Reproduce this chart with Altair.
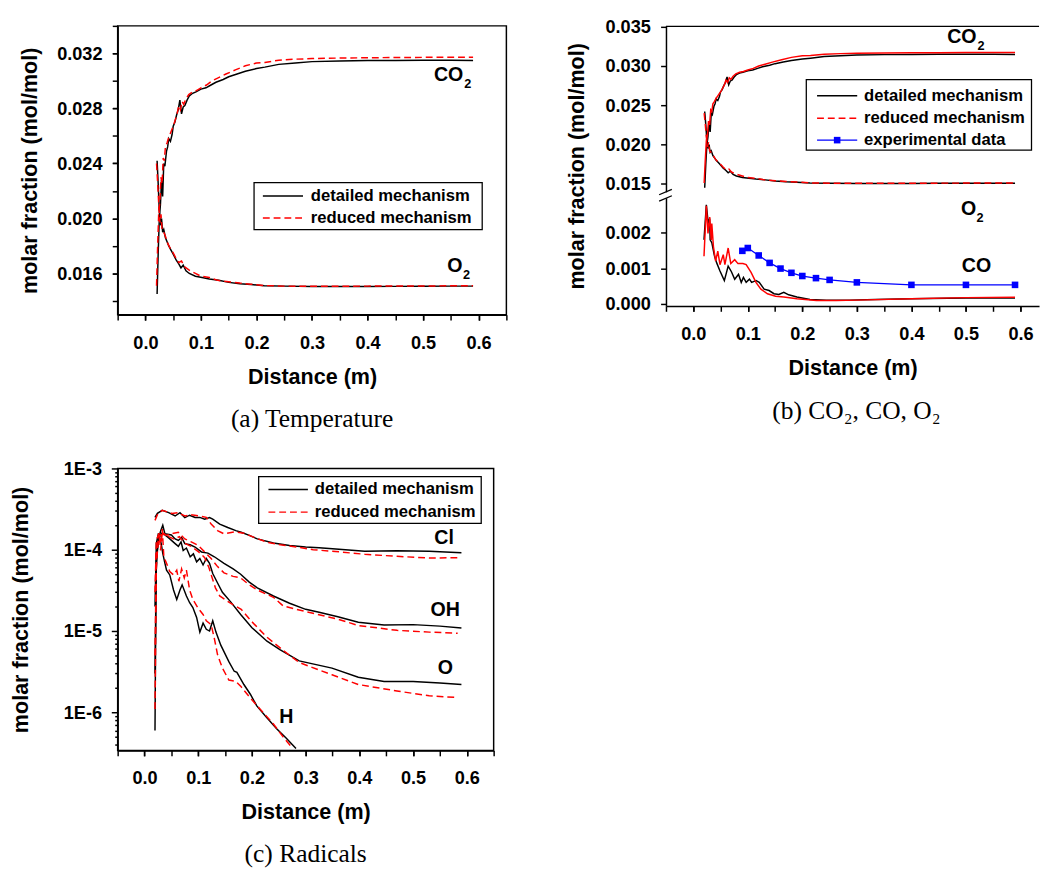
import altair as alt
import pandas as pd

# ---------------- data ----------------
# CO2 / O2 profiles, used in panels (a) and (b)
CO2_DET_X = [0.021, 0.023, 0.025, 0.027, 0.029, 0.031, 0.033, 0.035, 0.038, 0.040, 0.042, 0.045, 0.048, 0.050,
             0.053, 0.056, 0.059, 0.062, 0.065, 0.068, 0.071, 0.075, 0.079, 0.085, 0.091, 0.100, 0.109, 0.118,
             0.127, 0.140, 0.150, 0.165, 0.180, 0.200, 0.215, 0.240, 0.270, 0.300, 0.350, 0.400, 0.450, 0.500,
             0.550, 0.590]
CO2_DET_Y = [0.0145, 0.0175, 0.0200, 0.0210, 0.0228, 0.0216, 0.0240, 0.0238, 0.0249, 0.0252, 0.0258, 0.0256,
             0.0261, 0.0267, 0.0270, 0.0275, 0.0279, 0.0286, 0.0276, 0.0281, 0.0282, 0.0286, 0.0289, 0.0291,
             0.0292, 0.0294, 0.0295, 0.0297, 0.0299, 0.0301, 0.0303, 0.0305, 0.0307, 0.0309, 0.0310, 0.0312,
             0.0313, 0.03140, 0.03145, 0.03148, 0.03149, 0.03150, 0.03150, 0.03148]
CO2_RED_X = [0.020, 0.022, 0.024, 0.026, 0.028, 0.030, 0.032, 0.034, 0.036, 0.039, 0.042, 0.045, 0.048, 0.051,
             0.054, 0.057, 0.060, 0.063, 0.066, 0.069, 0.073, 0.078, 0.085, 0.092, 0.100, 0.110, 0.120, 0.130,
             0.145, 0.162, 0.180, 0.200, 0.215, 0.240, 0.270, 0.300, 0.350, 0.400, 0.450, 0.500, 0.550, 0.590]
CO2_RED_Y = [0.0151, 0.0180, 0.0205, 0.0212, 0.0230, 0.0225, 0.0244, 0.0242, 0.0252, 0.0255, 0.0259, 0.0262,
             0.0265, 0.0268, 0.0272, 0.0276, 0.0282, 0.0279, 0.0285, 0.0283, 0.0287, 0.0290, 0.0292, 0.0293,
             0.0295, 0.0297, 0.0300, 0.0302, 0.0305, 0.0308, 0.0311, 0.0313, 0.03134, 0.0315, 0.03158, 0.03162,
             0.03166, 0.03168, 0.03170, 0.03171, 0.03172, 0.03172]
O2_DET_X = [0.021, 0.023, 0.025, 0.027, 0.029, 0.031, 0.033, 0.036, 0.039, 0.042, 0.046, 0.050, 0.055, 0.060,
            0.064, 0.068, 0.073, 0.079, 0.090, 0.102, 0.115, 0.132, 0.150, 0.170, 0.190, 0.214, 0.250, 0.300,
            0.350, 0.400, 0.450, 0.500, 0.550, 0.590]
O2_DET_Y = [0.0242, 0.0225, 0.0205, 0.0195, 0.0200, 0.0190, 0.0192, 0.0186, 0.0183, 0.0180, 0.0177, 0.0174,
            0.0170, 0.0167, 0.0164, 0.0166, 0.0162, 0.0160, 0.0158, 0.0157, 0.0156, 0.0155, 0.01535, 0.01525,
            0.0152, 0.0151, 0.01508, 0.01505, 0.01505, 0.01505, 0.01506, 0.01507, 0.01508, 0.01508]
O2_RED_X = [0.020, 0.022, 0.024, 0.026, 0.028, 0.030, 0.033, 0.036, 0.040, 0.045, 0.050, 0.055, 0.060, 0.065,
            0.070, 0.080, 0.090, 0.100, 0.115, 0.130, 0.150, 0.170, 0.190, 0.214, 0.250, 0.300, 0.400, 0.500,
            0.590]
O2_RED_Y = [0.0240, 0.0226, 0.0210, 0.0197, 0.0203, 0.0192, 0.0190, 0.0187, 0.0182, 0.0178, 0.0175, 0.0171,
            0.0168, 0.0169, 0.0165, 0.0162, 0.0160, 0.0158, 0.0157, 0.0155, 0.0154, 0.0153, 0.01522, 0.01512,
            0.01508, 0.01507, 0.01508, 0.01509, 0.01511]

# CO profiles, panel (b)
CO_DET_X = [0.0197, 0.024, 0.0275, 0.030, 0.031, 0.034, 0.039, 0.043, 0.049, 0.057, 0.064, 0.070, 0.076, 0.083,
            0.088, 0.092, 0.097, 0.103, 0.107, 0.115, 0.121, 0.130, 0.139, 0.148, 0.157, 0.166, 0.175, 0.190,
            0.214, 0.244, 0.286, 0.334, 0.400, 0.500, 0.590]
CO_DET_Y = [0.00180, 0.00279, 0.00226, 0.00240, 0.00180, 0.00172, 0.00134, 0.00115, 0.00092, 0.00065, 0.00106,
            0.00090, 0.00069, 0.00083, 0.00060, 0.00074, 0.00060, 0.00069, 0.00060, 0.00065, 0.00060, 0.00041,
            0.00037, 0.00028, 0.00026, 0.00032, 0.00025, 0.00019, 0.00012, 0.00010, 0.00010, 0.00012, 0.00014,
            0.00016, 0.00016]
CO_RED_X = [0.0197, 0.024, 0.027, 0.0302, 0.033, 0.034, 0.037, 0.041, 0.045, 0.049, 0.055, 0.058, 0.064, 0.0688,
            0.076, 0.082, 0.091, 0.097, 0.106, 0.115, 0.124, 0.136, 0.151, 0.166, 0.190, 0.226, 0.262, 0.300,
            0.400, 0.500, 0.590]
CO_RED_Y = [0.00134, 0.00276, 0.00198, 0.00244, 0.00180, 0.00226, 0.00161, 0.00120, 0.00148, 0.00110, 0.00138,
            0.00110, 0.00157, 0.00113, 0.00124, 0.00113, 0.00113, 0.00110, 0.00088, 0.00060, 0.00041, 0.00028,
            0.00021, 0.00019, 0.00014, 0.00009, 0.00009, 0.00010, 0.00014, 0.00017, 0.00018]
EXP_X = [0.09, 0.10, 0.12, 0.14, 0.16, 0.18, 0.20, 0.225, 0.25, 0.30, 0.40, 0.50, 0.59]
EXP_Y = [0.00149, 0.00157, 0.00136, 0.00115, 0.00099, 0.00087, 0.00078, 0.00072, 0.00067, 0.00060, 0.00053,
         0.00053, 0.00053]

# Radicals, panel (c)
CL_DET_X = [0.0195, 0.024, 0.033, 0.045, 0.057, 0.066, 0.075, 0.084, 0.094, 0.103, 0.112, 0.121, 0.127, 0.140,
            0.155, 0.170, 0.180, 0.195, 0.210, 0.240, 0.270, 0.300, 0.325, 0.350, 0.410, 0.470, 0.530, 0.590]
CL_DET_Y = [2.5e-4, 2.8e-4, 3.05e-4, 2.86e-4, 2.6e-4, 2.86e-4, 2.49e-4, 2.66e-4, 2.49e-4, 2.5e-4, 2.38e-4,
            2.49e-4, 2.38e-4, 2.07e-4, 1.88e-4, 1.72e-4, 1.64e-4, 1.5e-4, 1.36e-4, 1.21e-4, 1.13e-4, 1.08e-4,
            1.06e-4, 1.03e-4, 9.6e-5, 9.7e-5, 9.6e-5, 9.2e-5]
CL_RED_X = [0.0195, 0.024, 0.033, 0.051, 0.063, 0.075, 0.087, 0.103, 0.115, 0.124, 0.136, 0.148, 0.167, 0.185,
            0.203, 0.228, 0.253, 0.284, 0.314, 0.349, 0.410, 0.470, 0.530, 0.585]
CL_RED_Y = [2.3e-4, 2.7e-4, 3.05e-4, 2.8e-4, 2.86e-4, 2.6e-4, 2.7e-4, 2.6e-4, 2.5e-4, 2.07e-4, 1.72e-4, 1.57e-4,
            1.66e-4, 1.6e-4, 1.43e-4, 1.24e-4, 1.15e-4, 1.08e-4, 1.0e-4, 9.6e-5, 8.8e-5, 8.3e-5, 7.9e-5, 8.0e-5]
OH_DET_X = [0.0195, 0.0215, 0.025, 0.030, 0.034, 0.038, 0.050, 0.057, 0.063, 0.069, 0.075, 0.085, 0.094, 0.106,
            0.118, 0.130, 0.148, 0.165, 0.179, 0.195, 0.210, 0.240, 0.270, 0.300, 0.325, 0.360, 0.398, 0.446,
            0.500, 0.550, 0.590]
OH_DET_Y = [6e-7, 5e-5, 1.3e-4, 1.7e-4, 2.0e-4, 1.57e-4, 1.52e-4, 1.36e-4, 1.3e-4, 1.42e-4, 1.19e-4, 1.15e-4,
            1.08e-4, 9.4e-5, 9.1e-5, 8.2e-5, 6.8e-5, 5.8e-5, 5.0e-5, 4.0e-5, 3.4e-5, 2.7e-5, 2.2e-5, 1.85e-5,
            1.7e-5, 1.5e-5, 1.28e-5, 1.19e-5, 1.2e-5, 1.15e-5, 1.09e-5]
OH_RED_X = [0.0195, 0.022, 0.026, 0.030, 0.033, 0.040, 0.050, 0.063, 0.075, 0.087, 0.100, 0.112, 0.124, 0.136,
            0.148, 0.165, 0.179, 0.195, 0.210, 0.240, 0.258, 0.290, 0.319, 0.360, 0.398, 0.470, 0.530, 0.583]
OH_RED_Y = [1.1e-6, 6e-5, 1.5e-4, 1.2e-4, 1.64e-4, 1.5e-4, 1.57e-4, 1.64e-4, 1.36e-4, 1.25e-4, 1.13e-4, 9.4e-5,
            7.8e-5, 6.2e-5, 5.2e-5, 4.7e-5, 4.5e-5, 3.7e-5, 3.2e-5, 2.6e-5, 2.04e-5, 1.8e-5, 1.62e-5, 1.4e-5,
            1.17e-5, 1.02e-5, 9.7e-6, 9.4e-6]
O_DET_X = [0.0195, 0.022, 0.027, 0.032, 0.038, 0.045, 0.057, 0.063, 0.068, 0.072, 0.078, 0.085, 0.091, 0.097,
           0.103, 0.109, 0.115, 0.121, 0.127, 0.136, 0.145, 0.160, 0.179, 0.200, 0.228, 0.252, 0.288, 0.349,
           0.398, 0.446, 0.500, 0.550, 0.590]
O_DET_Y = [3e-6, 8e-5, 1.4e-4, 1.6e-4, 1.52e-4, 1.4e-4, 1.19e-4, 1.1e-4, 1.25e-4, 9.8e-5, 1.05e-4, 8.2e-5,
           8.9e-5, 7.1e-5, 7.8e-5, 6.5e-5, 7.8e-5, 6.8e-5, 5.1e-5, 3.9e-5, 3.0e-5, 2.3e-5, 1.6e-5, 1.1e-5,
           7.5e-6, 5.9e-6, 4.3e-6, 3.5e-6, 2.7e-6, 2.4e-6, 2.4e-6, 2.3e-6, 2.2e-6]
O_RED_X = [0.0195, 0.022, 0.028, 0.035, 0.045, 0.055, 0.065, 0.075, 0.087, 0.100, 0.112, 0.120, 0.126, 0.132,
           0.140, 0.160, 0.180, 0.200, 0.227, 0.258, 0.288, 0.349, 0.398, 0.470, 0.530, 0.583]
O_RED_Y = [5e-6, 9e-5, 1.5e-4, 1.55e-4, 1.45e-4, 1.35e-4, 1.45e-4, 1.2e-4, 1.1e-4, 9.5e-5, 8.0e-5, 6.0e-5,
           4.5e-5, 3.4e-5, 2.7e-5, 2.2e-5, 1.85e-5, 1.3e-5, 8.5e-6, 5.8e-6, 4.1e-6, 2.9e-6, 2.2e-6, 1.83e-6,
           1.6e-6, 1.52e-6]
H_DET_X = [0.0195, 0.022, 0.026, 0.031, 0.034, 0.038, 0.041, 0.047, 0.054, 0.060, 0.066, 0.070, 0.078, 0.084,
           0.090, 0.097, 0.103, 0.109, 0.115, 0.121, 0.127, 0.133, 0.142, 0.157, 0.167, 0.172, 0.185, 0.197,
           0.209, 0.227, 0.246, 0.264, 0.282]
H_DET_Y = [2e-5, 1.2e-4, 1.6e-4, 1.2e-4, 9e-5, 6.8e-5, 5.6e-5, 4.9e-5, 3.2e-5, 2.45e-5, 3.2e-5, 3.7e-5, 2.7e-5,
           2.23e-5, 1.95e-5, 1.47e-5, 9.7e-6, 1.25e-5, 1.05e-5, 1.0e-5, 1.34e-5, 9.7e-6, 6.7e-6, 4.2e-6, 3.2e-6,
           3.1e-6, 2.2e-6, 1.67e-6, 1.2e-6, 8.7e-7, 6.3e-7, 4.8e-7, 3.6e-7]
H_RED_X = [0.0195, 0.022, 0.027, 0.030, 0.033, 0.036, 0.041, 0.047, 0.054, 0.060, 0.064, 0.069, 0.074, 0.078,
           0.084, 0.090, 0.100, 0.109, 0.115, 0.124, 0.130, 0.136, 0.145, 0.157, 0.170, 0.179, 0.197, 0.215,
           0.240, 0.258, 0.276]
H_RED_Y = [3e-5, 1.3e-4, 1.6e-4, 9.8e-5, 1.8e-4, 8.2e-5, 6.8e-5, 5.4e-5, 4.9e-5, 5.6e-5, 4.1e-5, 5.8e-5, 4.5e-5,
           5.6e-5, 3.2e-5, 2.45e-5, 1.9e-5, 1.6e-5, 1.34e-5, 1.2e-5, 8.1e-6, 5.1e-6, 3.5e-6, 2.5e-6, 2.4e-6,
           2.1e-6, 1.5e-6, 1.1e-6, 7.2e-7, 5.0e-7, 3.6e-7]

# text content
LEGEND_LABELS = ["detailed mechanism", "reduced mechanism", "experimental data"]
CAPTIONS = ["(a) Temperature", "(b) CO\u2082, CO, O\u2082", "(c) Radicals"]
X_TITLE = "Distance (m)"
Y_TITLE = "molar fraction (mol/mol)"
X_MAJOR = [0.0, 0.1, 0.2, 0.3, 0.4, 0.5, 0.6]
YA_MAJOR = [0.016, 0.020, 0.024, 0.028, 0.032]
YB_MAJOR = [0.0, 0.001, 0.002, 0.015, 0.020, 0.025, 0.030, 0.035]
# curve labels: text, subscript, x, y (data units)
ANN_A = [("CO", "2", 0.5195, 0.03040), ("O", "2", 0.5437, 0.01650)]
ANN_B = [("CO", "2", 0.4655, 0.03362), ("O", "2", 0.4907, 0.002657), ("CO", "", 0.4925, 0.00105)]
ANN_C = [("Cl", "", 0.5395, 1.40e-4), ("OH", "", 0.5326, 1.82e-5), ("O", "", 0.5459, 3.47e-6),
         ("H", "", 0.2506, 8.63e-7)]

# ---------------- helpers ----------------
SANS = "Liberation Sans"
SERIF = "Liberation Serif"
BLACK, RED, BLUE = "#000000", "#ff0000", "#0000ff"
DASH = [7, 4]
TICK = 5.5


def long_df(series):
    rows = []
    for sp, mech, xs, ys in series:
        for xv, yv in zip(xs, ys):
            rows.append({"species": sp, "mech": mech, "x": xv, "v": yv})
    return pd.DataFrame(rows)


def label_expr(pairs, eps):
    e = ""
    for pos, lab in pairs:
        e += "abs(datum.value - (%.6f)) < %g ? '%s' : " % (pos, eps, lab)
    return e + "''"


X_TICKS = [round(-0.05 + 0.05 * i, 2) for i in range(15)]


def x_major(lp=13.5, tp=16):
    return alt.Axis(values=X_MAJOR, format=".1f", title=X_TITLE, labelPadding=lp, titlePadding=tp,
                    tickSize=TICK, labelOverlap=False, labelFlush=False)


def x_minor(ticks):
    return alt.Axis(values=ticks, labels=False, domain=False, title=None, tickSize=TICK, orient="bottom")


def legend_layers(entries, box, sx0, sx1, tx, rows):
    one = pd.DataFrame({"k": [0]})
    layers = [alt.Chart(one).mark_rect(fill="white", stroke="black", strokeWidth=1.3).encode(
        x=alt.value(box[0]), x2=alt.value(box[1]), y=alt.value(box[2]), y2=alt.value(box[3]))]
    for (label, color, dashed, marker), ry in zip(entries, rows):
        kw = dict(color=color, strokeWidth=1.5)
        if dashed:
            kw["strokeDash"] = DASH
        layers.append(alt.Chart(one).mark_rule(**kw).encode(
            x=alt.value(sx0), x2=alt.value(sx1), y=alt.value(ry)))
        if marker:
            layers.append(alt.Chart(one).mark_square(size=45, color=color, opacity=1).encode(
                x=alt.value((sx0 + sx1) / 2), y=alt.value(ry)))
        layers.append(alt.Chart(one).mark_text(
            text=label, align="left", baseline="middle", font=SANS, fontSize=17, fontWeight="bold",
            color="black").encode(x=alt.value(tx), y=alt.value(ry)))
    return layers


def ann_layers(ann, xscale, yfield, yscale, calc=None, y_none=True):
    layers = []
    for text, sub, xv, yv in ann:
        d = pd.DataFrame({"x": [xv], "v": [yv]})
        base = alt.Chart(d)
        if calc:
            base = base.transform_calculate(d=calc)
        ych = alt.Y(yfield, scale=yscale, axis=None) if y_none else alt.Y(yfield, scale=yscale)
        enc = dict(x=alt.X("x:Q", scale=xscale, axis=None), y=ych)
        layers.append(base.mark_text(text=text, align="left", baseline="middle", font=SANS, fontSize=20,
                                     fontWeight="bold", color="black").encode(**enc))
        if sub:
            w = {"CO": 31, "O": 16}[text]
            layers.append(base.mark_text(text=sub, align="left", baseline="middle", font=SANS, fontSize=13,
                                         fontWeight="bold", color="black", dx=w, dy=9).encode(**enc))
    return layers


def caption(text, dx=0):
    return alt.TitleParams(text, orient="bottom", font=SERIF, fontSize=26, fontWeight="normal",
                           color="black", frame="group", anchor="middle", offset=19.5, dx=dx)


ENTRIES2 = [(LEGEND_LABELS[0], BLACK, False, False), (LEGEND_LABELS[1], RED, True, False)]
ENTRIES3 = ENTRIES2 + [(LEGEND_LABELS[2], BLUE, False, True)]

# ---------------- panel (a) ----------------
WA, HA = 397, 295
df_a = long_df([("CO2", "detailed", CO2_DET_X, CO2_DET_Y), ("O2", "detailed", O2_DET_X, O2_DET_Y),
                ("CO2", "reduced", CO2_RED_X, CO2_RED_Y), ("O2", "reduced", O2_RED_X, O2_RED_Y)])
xs_a = alt.Scale(domain=[-0.05, 0.65], nice=False, zero=False)
ys_a = alt.Scale(domain=[0.013, 0.034], nice=False, zero=False)
ya_ticks = [round(0.014 + 0.002 * i, 3) for i in range(11)]
ya_major = alt.Axis(values=YA_MAJOR, format=".3f", title=Y_TITLE, tickSize=TICK, labelPadding=10.5,
                    titlePadding=16, labelOverlap=False, labelFlush=False)
ya_minor = alt.Axis(values=ya_ticks, labels=False, domain=False, title=None, tickSize=TICK, orient="left")
base_a = alt.Chart(df_a)
black_a = base_a.transform_filter("datum.mech == 'detailed'").mark_line(color=BLACK, strokeWidth=1.5).encode(
    x=alt.X("x:Q", scale=xs_a, axis=x_major()), y=alt.Y("v:Q", scale=ys_a, axis=ya_major),
    detail="species:N", order="x:Q")
red_a = base_a.transform_filter("datum.mech == 'reduced'").mark_line(
    color=RED, strokeWidth=1.5, strokeDash=DASH).encode(
    x=alt.X("x:Q", scale=xs_a, axis=x_minor(X_TICKS)), y=alt.Y("v:Q", scale=ys_a, axis=ya_minor),
    detail="species:N", order="x:Q")
panel_a = alt.layer(
    black_a, red_a, *ann_layers(ANN_A, xs_a, "v:Q", ys_a),
    *legend_layers(ENTRIES2, (139.3, 372.3, 160, 208), 148.3, 189.3, 197.3, [173.7, 196.3])
).resolve_axis(x="independent", y="independent").properties(
    width=WA, height=HA, title=caption(CAPTIONS[0]))

# ---------------- panel (b) (broken y axis) ----------------
WB, HB = 381, 286
B_LO, B_UP = 36200.0, 8020.0


def to_d(v):
    return 2.3 + v * B_LO if v < 0.008 else 124.7 + (v - 0.015) * B_UP


D_EXPR = "datum.v < 0.008 ? 2.3 + datum.v * %g : 124.7 + (datum.v - 0.015) * %g" % (B_LO, B_UP)
yb_minor = [0.0005, 0.0015, 0.0025, 0.0175, 0.0225, 0.0275, 0.0325]
yb_vals = sorted(to_d(v) for v in YB_MAJOR + yb_minor)
yb_axis = alt.Axis(values=yb_vals, labelExpr=label_expr([(to_d(v), "%.3f" % v) for v in YB_MAJOR], 0.5),
                   title=Y_TITLE, tickSize=TICK, labelPadding=10.5,
                   titlePadding=17, zindex=0, labelOverlap=False, labelFlush=False)
xs_b = alt.Scale(domain=[-0.05, -0.05 + WB / 557.0], nice=False, zero=False)
ys_b = alt.Scale(domain=[0, HB], nice=False, zero=False)
df_b = long_df([("CO2", "detailed", CO2_DET_X, CO2_DET_Y), ("O2", "detailed", O2_DET_X, O2_DET_Y),
                ("CO", "detailed", CO_DET_X, CO_DET_Y),
                ("CO2", "reduced", CO2_RED_X, CO2_RED_Y), ("O2", "reduced", O2_RED_X, O2_RED_Y),
                ("CO", "reduced", CO_RED_X, CO_RED_Y)])
df_exp = pd.DataFrame({"x": EXP_X, "v": EXP_Y})
base_b = alt.Chart(df_b).transform_calculate(d=D_EXPR)
xb_ticks = [t for t in X_TICKS if t <= 0.6 + 1e-9]
black_b = base_b.transform_filter("datum.mech == 'detailed'").mark_line(color=BLACK, strokeWidth=1.5).encode(
    x=alt.X("x:Q", scale=xs_b, axis=x_major()), y=alt.Y("d:Q", scale=ys_b, axis=yb_axis),
    detail="species:N", order="x:Q")
red_b = base_b.transform_filter("datum.mech == 'reduced' && datum.species != 'O2'").mark_line(
    color=RED, strokeWidth=1.5).encode(
    x=alt.X("x:Q", scale=xs_b, axis=x_minor(xb_ticks)), y=alt.Y("d:Q", scale=ys_b, axis=yb_axis),
    detail="species:N", order="x:Q")
red_b2 = base_b.transform_filter("datum.mech == 'reduced' && datum.species == 'O2'").mark_line(
    color=RED, strokeWidth=1.5, strokeDash=DASH).encode(
    x=alt.X("x:Q", scale=xs_b, axis=None), y=alt.Y("d:Q", scale=ys_b, axis=yb_axis), order="x:Q")
exp_base = alt.Chart(df_exp).transform_calculate(d=D_EXPR)
exp_line = exp_base.mark_line(color=BLUE, strokeWidth=1.3).encode(
    x=alt.X("x:Q", scale=xs_b, axis=None), y=alt.Y("d:Q", scale=ys_b, axis=yb_axis))
exp_pts = exp_base.mark_square(size=45, color=BLUE, opacity=1).encode(
    x=alt.X("x:Q", scale=xs_b, axis=None), y=alt.Y("d:Q", scale=ys_b, axis=yb_axis))
one = pd.DataFrame({"k": [0]})
top_border = alt.Chart(one).mark_rule(color=BLACK, strokeWidth=1.5).encode(
    x=alt.value(0), x2=alt.value(WB), y=alt.value(0.5))
brk_y = HB - 113
gap = alt.Chart(one).mark_rect(color="white").encode(
    x=alt.value(-2.5), x2=alt.value(2.5), y=alt.value(brk_y - 3), y2=alt.value(brk_y + 3))
slash1 = alt.Chart(one).mark_rule(color=BLACK, strokeWidth=1.3).encode(
    x=alt.value(-7), x2=alt.value(6), y=alt.value(brk_y - 0.5), y2=alt.value(brk_y - 6))
slash2 = alt.Chart(one).mark_rule(color=BLACK, strokeWidth=1.3).encode(
    x=alt.value(-7), x2=alt.value(6), y=alt.value(brk_y + 6), y2=alt.value(brk_y + 0.5))
panel_b = alt.layer(
    black_b, red_b, red_b2, exp_line, exp_pts,
    *ann_layers(ANN_B, xs_b, "d:Q", ys_b, D_EXPR, y_none=False),
    top_border, gap, slash1, slash2,
    *legend_layers(ENTRIES3, (143.3, 373.3, 55, 127), 154.3, 195.3, 202.3, [71.3, 94.3, 116.7]),
    view=alt.ViewBackground(stroke="transparent")
).resolve_axis(x="independent").properties(width=WB, height=HB, title=caption(CAPTIONS[1], dx=4))

# ---------------- panel (c) (log scale) ----------------
WC, HC = 384, 288
xs_c = alt.Scale(domain=[-0.05, 0.65], nice=False, zero=False)
ys_c = alt.Scale(type="log", domain=[3.4e-7, 1e-3], nice=False)
yc_major = [1e-6, 1e-5, 1e-4, 1e-3]
yc_minor = [k * 10.0 ** e for e in (-7, -6, -5, -4) for k in range(2, 10) if 3.4e-7 <= k * 10.0 ** e <= 1e-3]
yc_axis = alt.Axis(values=yc_major, labelExpr="'1E' + round(log(datum.value) / LN10)", title=Y_TITLE,
                   tickSize=6.5, labelPadding=10, titlePadding=32, labelFlush=False, labelOverlap=False)
yc_axis_minor = alt.Axis(values=yc_minor, labels=False, domain=False, title=None, tickSize=3, orient="left")
df_c = long_df([("Cl", "detailed", CL_DET_X, CL_DET_Y), ("OH", "detailed", OH_DET_X, OH_DET_Y),
                ("O", "detailed", O_DET_X, O_DET_Y), ("H", "detailed", H_DET_X, H_DET_Y),
                ("Cl", "reduced", CL_RED_X, CL_RED_Y), ("OH", "reduced", OH_RED_X, OH_RED_Y),
                ("O", "reduced", O_RED_X, O_RED_Y), ("H", "reduced", H_RED_X, H_RED_Y)])
base_c = alt.Chart(df_c)
black_c = base_c.transform_filter("datum.mech == 'detailed'").mark_line(
    color=BLACK, strokeWidth=1.5, clip=True).encode(
    x=alt.X("x:Q", scale=xs_c, axis=x_major(13.5, 15)), y=alt.Y("v:Q", scale=ys_c, axis=yc_axis),
    detail="species:N", order="x:Q")
red_c = base_c.transform_filter("datum.mech == 'reduced'").mark_line(
    color=RED, strokeWidth=1.5, strokeDash=DASH, clip=True).encode(
    x=alt.X("x:Q", scale=xs_c, axis=x_minor(X_TICKS)), y=alt.Y("v:Q", scale=ys_c, axis=yc_axis_minor),
    detail="species:N", order="x:Q")
panel_c = alt.layer(
    black_c, red_c, *ann_layers(ANN_C, xs_c, "v:Q", ys_c),
    *legend_layers(ENTRIES2, (144, 371.3, 8.3, 56), 154, 194.3, 201.3, [21.6, 44.6])
).resolve_axis(x="independent", y="independent").properties(
    width=WC, height=HC, title=caption(CAPTIONS[2]))

# ---------------- compose ----------------
chart = alt.concat(panel_a, panel_b, panel_c, columns=2, align="none",
                   spacing={"row": 26, "column": 57}).properties(
    padding={"left": 0, "top": 0, "right": 0, "bottom": 0}
).configure_axis(
    labelFont=SANS, labelFontSize=18.5, labelFontWeight="bold", labelColor="black",
    titleFont=SANS, titleFontSize=22, titleFontWeight="bold", titleColor="black",
    domainColor="black", domainWidth=1.5, tickColor="black", tickWidth=1.5, grid=False
).configure_view(stroke="black", strokeWidth=1.5)

chart.save("out.html", embed_options={"renderer": "svg", "actions": False})
